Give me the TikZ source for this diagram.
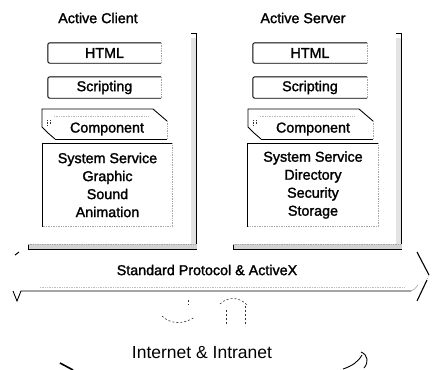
\documentclass[tikz,border=0pt]{standalone}
\usepackage{fontspec}
\setmainfont{Liberation Sans}
\newfontfamily\lab{Liberation Sans}[FakeBold=1.6]
\usetikzlibrary{calc}
\begin{document}
\begin{tikzpicture}[x=1pt,y=-1pt,
  lbl/.style={font=\lab\fontsize{14.3}{18}\selectfont, inner sep=0pt, align=center},
  boxline/.style={line width=0.9pt, black},
  fadeline/.style={line width=0.7pt, gray!70, densely dotted},
  dashln/.style={line width=0.6pt, black!80, dash pattern=on 2pt off 2pt}
]
\useasboundingbox (0,0) rectangle (432,370);

% ---------- titles ----------
\node[lbl] (tclient) at (98,18) {Active Client};
\node[lbl] (tserver) at (303,18) {Active Server};

% ---------- panel frames ----------
\foreach \rx/\bl in {196/28, 401/233}{
  \fill[gray!22] (\rx-5,38) rectangle (\rx,244);
  \draw[boxline] (\rx-5,33) -- (\rx,33) -- (\rx,249);
  \fill[gray!35] (\bl,244) rectangle (\rx+1,249);
  \draw[boxline] (\bl,244) -- (\bl,249) -- (\rx+1,249);
  \draw[fadeline] (\bl,244) -- (\rx,244);
}

% ---------- client stack ----------
\node[lbl, minimum width=113pt, minimum height=20pt] (chtml) at (104.5,53) {HTML};
\node[lbl, minimum width=113pt, minimum height=21pt] (cscr) at (104.5,87.5) {Scripting};
\node[lbl] (ccomp) at (107,129) {Component};
\node[lbl, minimum width=129pt, minimum height=83pt] (csys) at (107.5,185) {System Service\\Graphic\\Sound\\Animation};

% ---------- server stack ----------
\node[lbl, minimum width=114pt, minimum height=20pt] (shtml) at (310,53) {HTML};
\node[lbl, minimum width=114pt, minimum height=21pt] (sscr) at (310,87.5) {Scripting};
\node[lbl] (scomp) at (313,129) {Component};
\node[lbl, minimum width=130pt, minimum height=83pt] (ssys) at (313,185) {System Service\\Directory\\Security\\Storage};

% box outlines (solid left/top/bottom, faded right)
\foreach \n in {chtml,cscr,shtml,sscr}{
  \draw[boxline, rounded corners=2pt] (\n.north east) -- (\n.north west) -- (\n.south west) -- (\n.south east);
  \draw[fadeline] (\n.north east) -- (\n.south east);
}
\foreach \n in {csys,ssys}{
  \draw[boxline] (\n.north east) -- (\n.north west) -- (\n.south west);
  \draw[fadeline] (\n.north east) -- (\n.south east) -- (\n.south west);
}

% component shapes
\foreach \ox in {0,206}{
  \draw[boxline] (55+\ox,139) -- (48+\ox,133) -- (42+\ox,127) -- (42+\ox,109) -- (153+\ox,109) -- (167+\ox,121);
  \draw[boxline] (55+\ox,139) -- (167+\ox,139);
  \draw[fadeline] (167+\ox,121) -- (167+\ox,139);
  \draw[fadeline, gray!55] (54+\ox,116) -- (148+\ox,116);
  \draw[line width=0.6pt, black!80, densely dotted] (47+\ox,120) -- (47+\ox,126);
  \draw[line width=0.6pt, black!80, densely dotted] (50+\ox,120) -- (50+\ox,124);
}

% ---------- protocol arrow ----------
\node[lbl] (proto) at (207,270) {Standard Protocol \& ActiveX};
\coordinate (tl) at (15,255);
\coordinate (vl) at (13,291);
\coordinate (vb) at (17,301);
\coordinate (bl) at (21,291);
\coordinate (br) at (411,291);
\coordinate (h1) at (417,252);
\coordinate (h2) at (429,275);
\coordinate (h3) at (427,280);
\coordinate (h4) at (417,301);
\draw[line width=1pt] (tl) -- ++(4,-3);
\draw[line width=0.9pt] (vl) -- (vb) -- (bl) -- (br);
\draw[fadeline, gray!50] (40,287) -- (405,287);
\draw[line width=0.6pt, gray!70] (br) .. controls (414,290) and (416,288) .. (418,285);
\draw[line width=1.1pt] (h1) -- (h2);
\draw[fadeline] (h2) -- (h3);
\draw[line width=1.1pt] (h3) -- (h4);

% ---------- small up/down arrows ----------
\draw[dashln] (162,316) .. controls (170,324) and (183,325) .. (195,317);
\draw[dashln] (188,300) -- (188,305);
\draw[dashln] (220,304) .. controls (228,296) and (240,297) .. (247,305);
\draw[dashln] (226,310) -- (226,324);
\draw[dashln] (245,306) -- (245,326);

% ---------- internet cloud ----------
\node[font=\fontsize{17.5}{20}\selectfont, inner sep=0pt] (net) at (202,353) {Internet \& Intranet};
\draw[line width=1.6pt] (60,363) -- (73,370);
\draw[line width=0.9pt] (343,369) .. controls (352,366) and (358,362) .. (362,355);
\draw[line width=0.9pt] (361,352) .. controls (368,355) and (369,362) .. (364,368);
\end{tikzpicture}
\end{document}
